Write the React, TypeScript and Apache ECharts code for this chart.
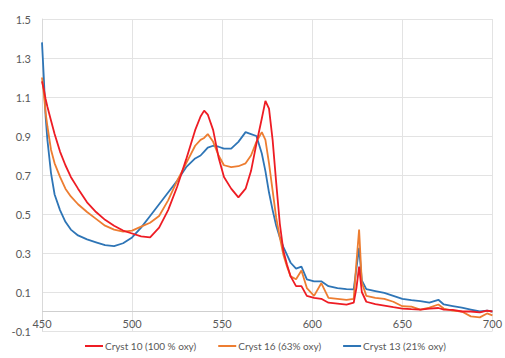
import React, { useEffect, useRef } from "react";
import * as echarts from "echarts";

const wavelengths = [
  450, 451, 452, 453, 455, 457, 460, 463, 466, 470, 475, 480, 485, 490, 495,
  500, 505, 510, 515, 520, 525, 530, 535, 538, 540, 542, 545, 548, 551, 555,
  559, 563, 566, 569, 572, 574, 576, 578, 580, 582, 584, 586, 588, 591, 594,
  597, 601, 605, 609, 614, 619, 623, 624.5, 626, 627.5, 630, 635, 640, 645,
  650, 655, 660, 665, 670, 673, 678, 683, 688, 693, 697, 700,
];

const cryst10 = [
  1.18, 1.14, 1.09, 1.05, 0.98, 0.91, 0.82, 0.75, 0.69, 0.63, 0.56, 0.51, 0.47, 0.44, 0.415,
  0.4, 0.385, 0.38, 0.43, 0.52, 0.64, 0.78, 0.93, 1.0, 1.03, 1.01, 0.93, 0.79, 0.69, 0.63,
  0.585, 0.63, 0.72, 0.86, 0.99, 1.08, 1.04, 0.88, 0.66, 0.45, 0.31, 0.24, 0.18, 0.13, 0.13,
  0.08, 0.07, 0.065, 0.045, 0.04, 0.035, 0.045, 0.12, 0.23, 0.1, 0.05, 0.038, 0.03, 0.022,
  0.015, 0.012, 0.01, 0.015, 0.018, 0.01, 0.008, 0.0, 0.0, -0.005, 0.005, 0.0,
];

const cryst16 = [
  1.2, 1.12, 1.02, 0.95, 0.83, 0.76, 0.69, 0.63, 0.59, 0.55, 0.51, 0.475, 0.44, 0.42, 0.41,
  0.415, 0.435, 0.455, 0.49, 0.57, 0.67, 0.76, 0.85, 0.88, 0.89, 0.91, 0.87, 0.8, 0.75, 0.74,
  0.745, 0.76, 0.8, 0.87, 0.92, 0.88, 0.76, 0.62, 0.48, 0.38, 0.29, 0.23, 0.18, 0.165, 0.21,
  0.12, 0.08, 0.145, 0.07, 0.065, 0.06, 0.065, 0.25, 0.42, 0.15, 0.08, 0.07, 0.065, 0.05,
  0.027, 0.025, 0.01, 0.02, 0.036, 0.015, 0.005, 0.0, -0.025, -0.03, -0.01, -0.02,
];

const cryst13 = [
  1.38, 1.2, 1.0, 0.88, 0.71, 0.6, 0.52, 0.46, 0.42, 0.39, 0.37, 0.355, 0.34, 0.335, 0.35,
  0.38, 0.43, 0.49, 0.55, 0.61, 0.67, 0.74, 0.785, 0.8, 0.82, 0.84, 0.85, 0.845, 0.835, 0.835,
  0.87, 0.92, 0.91, 0.9, 0.81, 0.72, 0.61, 0.52, 0.44, 0.38, 0.33, 0.29, 0.25, 0.22, 0.23,
  0.165, 0.155, 0.155, 0.13, 0.12, 0.115, 0.113, 0.22, 0.326, 0.16, 0.115, 0.105, 0.095, 0.08,
  0.065, 0.058, 0.053, 0.045, 0.06, 0.036, 0.028, 0.02, 0.01, 0.0, 0.005, 0.0,
];

const seriesNames = ["Cryst 10 (100 % oxy)", "Cryst 16 (63% oxy)", "Cryst 13 (21% oxy)"];
const seriesColors = ["#ee1c24", "#ed7d31", "#2e75b6"];

const FONT = "Lato";

export default function App() {
  const ref = useRef<HTMLDivElement>(null);
  useEffect(() => {
    if (!ref.current) return;
    const chart = echarts.init(ref.current, null, { renderer: "svg" });
    const all = [cryst10, cryst16, cryst13];
    chart.setOption({
      animation: false,
      textStyle: { fontFamily: FONT },
      grid: { left: 42, right: 7, top: 19, bottom: 27, containLabel: false },
      xAxis: {
        type: "value",
        min: 450,
        max: 700,
        interval: 50,
        axisLine: { show: false },
        axisTick: { show: false },
        axisLabel: { color: "#595959", fontSize: 11, margin: -13, fontFamily: FONT },
        splitLine: { show: true, lineStyle: { color: "#e3e3e3", width: 1 } },
      },
      yAxis: {
        type: "value",
        min: -0.1,
        max: 1.5,
        interval: 0.2,
        axisLine: { show: true, onZero: false, lineStyle: { color: "#d9d9d9", width: 1 } },
        axisTick: { show: false },
        axisLabel: {
          color: "#595959",
          fontSize: 11,
          margin: 11,
          fontFamily: FONT,
          formatter: (v: number) => v.toFixed(1),
        },
        splitLine: { show: true, lineStyle: { color: "#e3e3e3", width: 1 } },
      },
      legend: {
        bottom: 2,
        left: 80,
        icon: "rect",
        itemWidth: 18,
        itemHeight: 2,
        itemGap: 22,
        textStyle: { color: "#595959", fontSize: 10, fontFamily: FONT, padding: [0, 0, 0, -3] },
        data: seriesNames,
      },
      series: seriesNames.map((name, i) => ({
        name,
        type: "line",
        symbol: "none",
        smooth: false,
        data: wavelengths.map((w, j) => [w, all[i][j]]),
        lineStyle: { color: seriesColors[i], width: 1.8 },
        itemStyle: { color: seriesColors[i] },
        z: 3 - i,
        markLine:
          i === 0
            ? {
                silent: true,
                symbol: "none",
                label: { show: false },
                lineStyle: { color: "#cfcfcf", width: 1, type: "solid" },
                data: [{ yAxis: 0 }],
                z: 1,
              }
            : undefined,
      })),
    });
    return () => chart.dispose();
  }, []);
  return <div ref={ref} style={{ width: 505, height: 358, position: "absolute", left: 0, top: 0 }} />;
}
